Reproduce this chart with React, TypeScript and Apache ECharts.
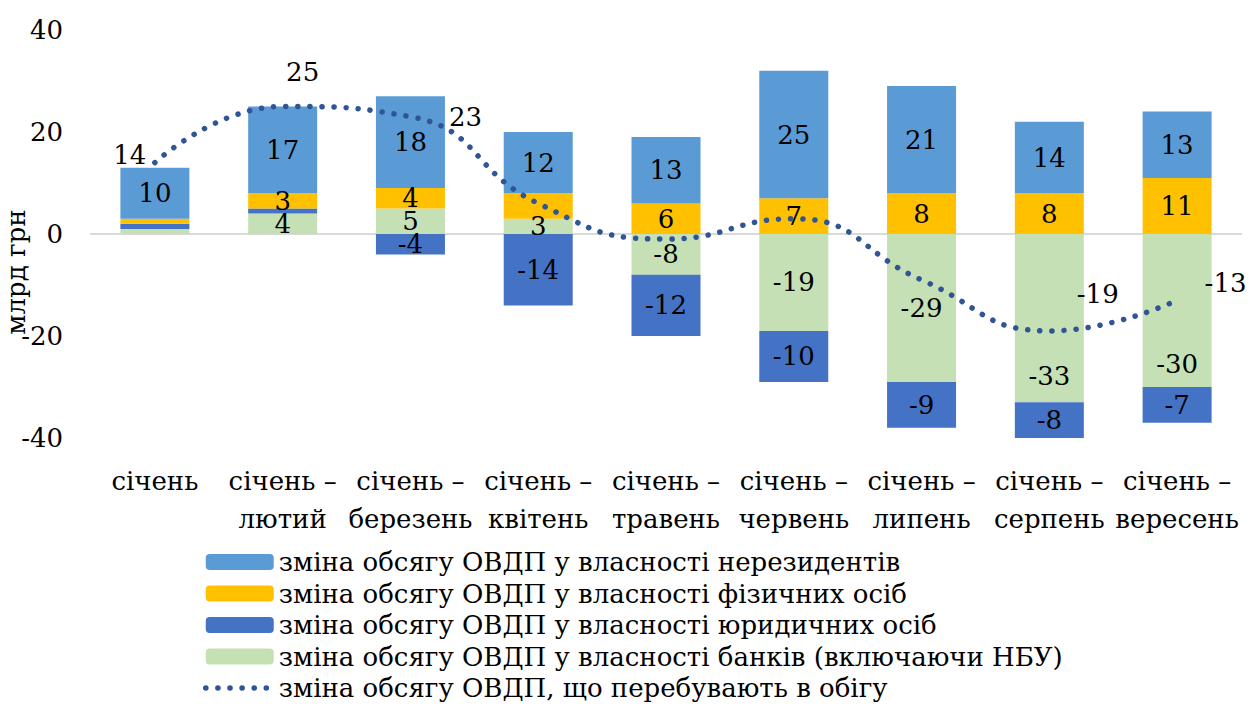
import React, { useEffect, useRef } from "react";
import * as echarts from "echarts";

const categories = [
  "січень",
  "січень –\nлютий",
  "січень –\nберезень",
  "січень –\nквітень",
  "січень –\nтравень",
  "січень –\nчервень",
  "січень –\nлипень",
  "січень –\nсерпень",
  "січень –\nвересень",
];

const banks = [1, 4, 5, 3, -8, -19, -29, -33, -30];
const legal = [1, 1, -4, -14, -12, -10, -9, -8, -7];
const individuals = [1, 3, 4, 5, 6, 7, 8, 8, 11];
const nonresidents = [10, 17, 18, 12, 13, 25, 21, 14, 13];
const total = [14, 25, 23, 6, -1, 3, -9, -19, -13];

const banksLabelShown = [false, true, true, true, true, true, true, true, true];
const legalLabelShown = [false, false, true, true, true, true, true, true, true];
const individualsLabelShown = [false, true, true, false, true, true, true, true, true];
const totalLabelShown = [true, true, true, false, false, false, false, true, true];

const yTicks = { min: -40, max: 40, interval: 20 };

const names = {
  nonres: "зміна обсягу ОВДП у власності нерезидентів",
  indiv: "зміна обсягу ОВДП у власності фізичних осіб",
  legal: "зміна обсягу ОВДП у власності юридичних осіб",
  banks: "зміна обсягу ОВДП у власності банків (включаючи НБУ)",
  total: "зміна обсягу ОВДП, що перебувають в обігу",
};

const FONT = "DejaVu Serif";
const FS = 26;

export default function App() {
  const ref = useRef<HTMLDivElement>(null);
  useEffect(() => {
    if (!ref.current) return;
    const chart = echarts.init(ref.current, null, { renderer: "svg" });
    const labelBase = {
      show: true,
      position: "inside" as const,
      color: "#000",
      fontSize: FS,
      fontFamily: FONT,
    };
    const banksLabelOffset: number[][] = [
      [0, 0], [0, 0], [0, 0], [0, 0], [0, 0], [0, 0], [0, 0], [0, 58], [0, 53],
    ];
    const withLabels = (vals: number[], shown: boolean[], offsets?: number[][]) =>
      vals.map((v, i) => ({
        value: v,
        label: { show: shown[i], offset: offsets ? offsets[i] : [0, 0] },
      }));

    const totalLabelPos: any[] = [
      { position: "left", distance: 8, offset: [0, -8] },
      { position: "top", distance: 5, offset: [20, -16] },
      { position: "right", distance: 5, offset: [33, 0] },
      {},
      {},
      {},
      {},
      { position: "right", distance: 5, offset: [22, -37] },
      { position: "right", distance: 5, offset: [22, -17] },
    ];

    chart.setOption({
      animation: false,
      textStyle: { fontFamily: FONT },
      grid: { left: 91, right: 9, top: 30, height: 408, containLabel: false },
      xAxis: [
        {
          type: "category",
          data: categories,
          axisLine: { show: false, onZero: false },
          axisTick: { show: false },
          axisLabel: {
            color: "#000",
            fontSize: FS,
            fontFamily: FONT,
            lineHeight: 38,
            margin: 24,
            interval: 0,
          },
        },
        {
          type: "category",
          data: categories,
          position: "bottom",
          axisLine: { show: true, onZero: true, lineStyle: { color: "#D9D9D9", width: 2 } },
          axisTick: { show: false },
          axisLabel: { show: false },
        },
      ],
      yAxis: {
        type: "value",
        min: yTicks.min,
        max: yTicks.max,
        interval: yTicks.interval,
        splitLine: { show: false },
        axisLine: { show: false },
        axisTick: { show: false },
        axisLabel: { color: "#000", fontSize: FS, fontFamily: FONT, margin: 28 },
      },
      legend: {
        orient: "vertical",
        left: 198,
        top: 544,
        height: 200,
        itemWidth: 68,
        itemHeight: 16,
        itemGap: 5.5,
        textStyle: { color: "#000", fontSize: FS, fontFamily: FONT },
        data: [
          { name: names.nonres },
          { name: names.indiv },
          { name: names.legal },
          { name: names.banks },
          {
            name: names.total,
            lineStyle: { width: 5.5, type: [0.1, 12], cap: "round", color: "#2F5597" },
          },
        ],
      },
      graphic: [
        {
          type: "text",
          x: 16,
          y: 272,
          rotation: Math.PI / 2,
          style: {
            text: "млрд грн",
            fill: "#000",
            fontSize: FS,
            fontFamily: FONT,
            align: "center",
            verticalAlign: "middle",
          },
        },
      ],
      series: [
        {
          name: names.banks,
          type: "bar",
          stack: "s",
          barWidth: "54%",
          itemStyle: { color: "#C5E0B4" },
          label: labelBase,
          data: withLabels(banks, banksLabelShown, banksLabelOffset),
        },
        {
          name: names.legal,
          type: "bar",
          stack: "s",
          barWidth: "54%",
          itemStyle: { color: "#4472C4" },
          label: labelBase,
          data: withLabels(legal, legalLabelShown),
        },
        {
          name: names.indiv,
          type: "bar",
          stack: "s",
          barWidth: "54%",
          itemStyle: { color: "#FFC000" },
          label: labelBase,
          data: withLabels(individuals, individualsLabelShown),
        },
        {
          name: names.nonres,
          type: "bar",
          stack: "s",
          barWidth: "54%",
          itemStyle: { color: "#5B9BD5" },
          label: labelBase,
          data: nonresidents.map((v) => ({ value: v })),
        },
        {
          name: names.total,
          type: "line",
          smooth: 0.5,
          symbol: "circle",
          symbolSize: 1,
          showSymbol: true,
          itemStyle: { color: "rgba(0,0,0,0)" },
          lineStyle: { color: "#2F5597", width: 5.5, type: [0.1, 12], cap: "round" },
          z: 5,
          data: total.map((v, i) => ({
            value: v,
            label: {
              show: totalLabelShown[i],
              color: "#000",
              fontSize: FS,
              fontFamily: FONT,
              ...totalLabelPos[i],
            },
          })),
        },
      ],
    });
    return () => chart.dispose();
  }, []);
  return (
    <div
      ref={ref}
      style={{ position: "fixed", left: 0, top: 0, width: 1250, height: 706, background: "#fff" }}
    />
  );
}
